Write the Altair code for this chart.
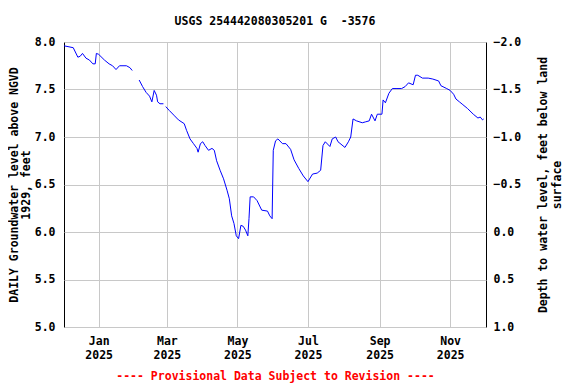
import altair as alt
import pandas as pd

title_text = "USGS 254442080305201 G \u00a0-3576"
left_title = ["DAILY Groundwater level above NGVD", "1929, feet"]
right_title = ["Depth to water level, feet below land", "surface"]
footer = "---- Provisional Data Subject to Revision ----"

dates = [
    "2024-12-02", "2024-12-10", "2024-12-14", "2024-12-16", "2024-12-18", "2024-12-21",
    "2024-12-24", "2024-12-27", "2024-12-29", "2024-12-30", "2025-01-01", "2025-01-06",
    "2025-01-10", "2025-01-13", "2025-01-16", "2025-01-19", "2025-01-25", "2025-01-28",
    "2025-01-30", "2025-02-02", "2025-02-05", "2025-02-08", "2025-02-11", "2025-02-14",
    "2025-02-16", "2025-02-18", "2025-02-20", "2025-02-21", "2025-02-23", "2025-02-26",
    "2025-02-27", "2025-02-28", "2025-03-03", "2025-03-07", "2025-03-11", "2025-03-16",
    "2025-03-18", "2025-03-21", "2025-03-24", "2025-03-27", "2025-03-28", "2025-03-30",
    "2025-04-01", "2025-04-03", "2025-04-06", "2025-04-09", "2025-04-11", "2025-04-13",
    "2025-04-16", "2025-04-19", "2025-04-22", "2025-04-24", "2025-04-26", "2025-04-28",
    "2025-04-30", "2025-05-02", "2025-05-03", "2025-05-04", "2025-05-06", "2025-05-08",
    "2025-05-10", "2025-05-11", "2025-05-12", "2025-05-15", "2025-05-18", "2025-05-22",
    "2025-05-27", "2025-05-29", "2025-05-31", "2025-06-01", "2025-06-03", "2025-06-05",
    "2025-06-09", "2025-06-12", "2025-06-16", "2025-06-19", "2025-06-23", "2025-06-27",
    "2025-07-01", "2025-07-05", "2025-07-09", "2025-07-12", "2025-07-14", "2025-07-16",
    "2025-07-20", "2025-07-22", "2025-07-25", "2025-07-27", "2025-08-02", "2025-08-05",
    "2025-08-07", "2025-08-09", "2025-08-12", "2025-08-17", "2025-08-20", "2025-08-23",
    "2025-08-25", "2025-08-28", "2025-08-30", "2025-09-03", "2025-09-04", "2025-09-06",
    "2025-09-09", "2025-09-12", "2025-09-16", "2025-09-20", "2025-09-23", "2025-09-26",
    "2025-09-30", "2025-10-02", "2025-10-04", "2025-10-08", "2025-10-13", "2025-10-17",
    "2025-10-22", "2025-10-24", "2025-10-29", "2025-11-01", "2025-11-04", "2025-11-06",
    "2025-11-09", "2025-11-12", "2025-11-16", "2025-11-21", "2025-11-25", "2025-11-27",
    "2025-11-29", "2025-11-30",
]
levels = [
    7.96, 7.94, 7.84, 7.85, 7.88, 7.83,
    7.81, 7.77, 7.77, 7.88, 7.87, 7.81,
    7.77, 7.75, 7.71, 7.75, 7.75, 7.73,
    7.70, None, 7.60, 7.53, 7.47, 7.43,
    7.37, 7.49, 7.44, 7.37, 7.35, 7.35,
    None, 7.32, 7.28, 7.23, 7.18, 7.14,
    7.07, 6.98, 6.93, 6.88, 6.84, 6.93,
    6.95, 6.91, 6.86, 6.88, 6.86, 6.75,
    6.65, 6.56, 6.44, 6.35, 6.17, 6.09,
    5.96, 5.93, 6.00, 6.07, 6.06, 6.02,
    5.96, 6.14, 6.37, 6.37, 6.33, 6.23,
    6.22, 6.17, 6.14, 6.86, 6.96, 6.98,
    6.93, 6.93, 6.87, 6.76, 6.67, 6.59,
    6.53, 6.61, 6.62, 6.65, 6.91, 6.95,
    6.90, 6.98, 7.00, 6.95, 6.89, 6.95,
    7.00, 7.19, 7.17, 7.15, 7.16, 7.17,
    7.24, 7.17, 7.24, 7.24, 7.39, 7.36,
    7.46, 7.51, 7.51, 7.51, 7.53, 7.57,
    7.55, 7.65, 7.65, 7.62, 7.62, 7.61,
    7.59, 7.54, 7.51, 7.49, 7.45, 7.40,
    7.37, 7.34, 7.30, 7.24, 7.20, 7.21,
    7.18, 7.19,
]
land_surface = 6.0  # level = land_surface - depth
left_ticks = [5.0, 5.5, 6.0, 6.5, 7.0, 7.5, 8.0]
right_ticks = [-2.0, -1.5, -1.0, -0.5, 0.0, 0.5, 1.0]

rows = []
seg = 0
for d, v in zip(dates, levels):
    if v is None:
        seg += 1
        continue
    rows.append({"date": d, "level": v, "depth": land_surface - v, "seg": seg})
df = pd.DataFrame(rows)

FONT = "DejaVu Sans Mono"
FS = 11.5

x_scale = alt.Scale(
    type="utc",
    domain=[alt.DateTime(year=2024, month=12, date=2, utc=True),
            alt.DateTime(year=2025, month=12, date=2, utc=True)],
)

x_enc = alt.X(
    "date:T",
    scale=x_scale,
    axis=alt.Axis(
        tickCount={"interval": "month", "step": 2},
        labelExpr="[utcFormat(datum.value, '%b'), utcFormat(datum.value, '%Y')]",
        labelLineHeight=14,
        labelPadding=8,
        labelFlush=False,
        labelOverlap=False,
        title=footer,
        titleColor="#FF0000",
        titlePadding=10,
    ),
)

base = alt.Chart(df)

left = base.mark_line(color="#0000FF", strokeWidth=1).encode(
    x=x_enc,
    y=alt.Y(
        "level:Q",
        scale=alt.Scale(domain=[5, 8], zero=False, nice=False),
        axis=alt.Axis(
            values=left_ticks,
            format=".1f",
            labelPadding=9,
            title=left_title,
            titlePadding=3,
            titleLineHeight=12,
        ),
    ),
    detail="seg:N",
)

right = base.mark_line(opacity=0).encode(
    x=x_enc,
    y=alt.Y(
        "depth:Q",
        scale=alt.Scale(domain=[-2, 1], reverse=True, zero=False, nice=False),
        axis=alt.Axis(
            orient="right",
            values=right_ticks,
            format=".1f",
            grid=False,
            labelPadding=7,
            title=right_title,
            titleAngle=270,
            titleBaseline="top",
            titlePadding=3,
            titleLineHeight=14,
        ),
    ),
    detail="seg:N",
)

chart = (
    alt.layer(left, right)
    .resolve_scale(y="independent")
    .properties(
        width=422,
        height=285,
        autosize=alt.AutoSizeParams(type="none"),
        padding={"left": 56, "top": 34, "right": 82, "bottom": 57},
        title=alt.Title(
            title_text,
            font=FONT,
            fontSize=FS,
            fontWeight="bold",
            anchor="middle",
            offset=9,
            color="black",
        ),
    )
    .configure_view(stroke="black", strokeWidth=1)
    .configure_axis(
        domain=False,
        ticks=False,
        gridColor="#C8C8C8",
        gridWidth=1,
        labelFont=FONT,
        labelFontSize=FS,
        labelFontWeight="bold",
        labelColor="black",
        titleFont=FONT,
        titleFontSize=FS,
        titleFontWeight="bold",
        titleColor="black",
    )
)

chart.save("out.html", embed_options={"renderer": "svg", "actions": False})
